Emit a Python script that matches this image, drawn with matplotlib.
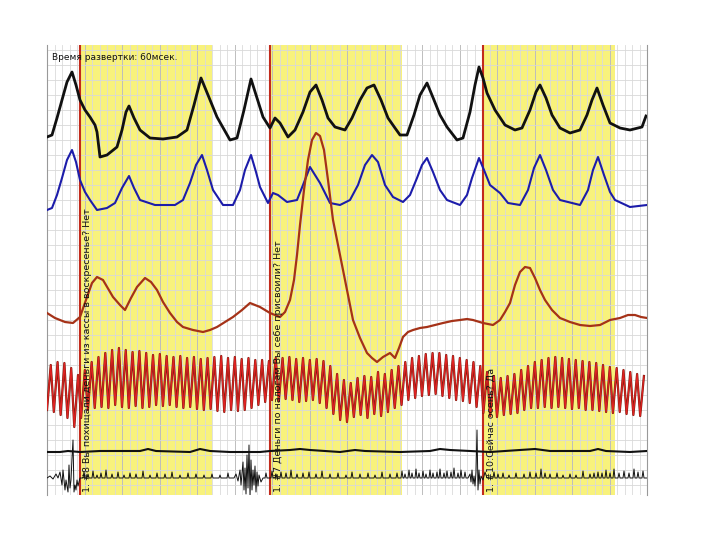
import matplotlib
matplotlib.use('Agg')
import matplotlib.pyplot as plt
import numpy as np

# chart units: x = time column, y = pen position (0 at top)
x_lo, x_hi = 47, 647
y_top, y_bot = 45, 495

question_x = [79.5, 270, 483]
answer_windows = [(80, 212), (270, 402), (483, 615)]
question_labels = ["1. #8 Вы похищали деньги из кассы в воскресенье? Нет",
                   "1. #7 Деньги по налогам Вы себе присвоили? Нет",
                   "1. #10:Сейчас осень? Да"]
sweep_text = "Время развертки: 60мсек."

# upper pneumogram (black)
black_x = [47, 52, 57, 62, 67, 72, 76, 80, 85, 90, 95, 97, 100, 107, 117, 122, 126, 129, 134, 140,
           150, 163, 177, 187, 194, 201, 208, 217, 230, 237, 244, 251, 257, 263, 270, 275, 280, 288,
           295, 303, 310, 316, 322, 328, 335, 345, 352, 360, 367, 374, 381, 388, 395, 400, 407, 414,
           420, 427, 434, 440, 447, 457, 463, 470, 475, 479, 483, 487, 495, 505, 515, 522, 530, 536,
           540, 546, 552, 560, 570, 580, 587, 592, 597, 603, 610, 620, 630, 642, 646]
black_y = [137, 135, 118, 100, 82, 72, 85, 100, 110, 117, 125, 132, 157, 155, 147, 130, 112, 106, 118, 130,
           138, 139, 137, 130, 105, 78, 95, 117, 140, 138, 110, 79, 98, 117, 128, 118, 123, 137,
           130, 112, 92, 85, 100, 118, 127, 130, 118, 100, 88, 85, 100, 118, 128, 135, 135, 115,
           95, 83, 100, 115, 127, 140, 138, 112, 85, 67, 78, 93, 110, 125, 130, 128, 110, 92,
           85, 98, 115, 128, 133, 130, 115, 100, 88, 105, 123, 128, 130, 127, 116]

# lower pneumogram (blue)
blue_x = [47, 52, 57, 62, 67, 72, 76, 80, 85, 90, 97, 107, 115, 122, 129, 134, 140, 155, 175, 183,
          190, 196, 202, 207, 213, 223, 233, 240, 245, 251, 256, 260, 268, 273, 278, 287, 297, 303,
          310, 315, 320, 330, 340, 350, 358, 365, 372, 378, 385, 393, 403, 410, 417, 422, 427, 433,
          440, 447, 460, 467, 472, 479, 484, 490, 500, 508, 520, 528, 534, 540, 546, 553, 560, 580,
          588, 593, 598, 604, 610, 615, 630, 647]
blue_y = [210, 208, 195, 178, 160, 150, 162, 180, 192, 200, 210, 208, 203, 188, 176, 188, 200, 205, 205, 200,
          183, 165, 155, 170, 190, 205, 205, 190, 170, 155, 172, 187, 203, 193, 195, 202, 200, 185,
          167, 175, 183, 203, 205, 200, 185, 165, 155, 162, 185, 197, 202, 195, 178, 165, 158, 172,
          190, 200, 205, 195, 178, 158, 170, 185, 193, 203, 205, 190, 168, 155, 170, 190, 200, 205,
          190, 170, 157, 175, 192, 200, 207, 205]

# skin response (brown)
gsr_x = [47, 55, 65, 73, 80, 87, 92, 97, 103, 113, 120, 125, 131, 137, 145, 151, 157, 163, 170, 177,
         183, 193, 203, 210, 217, 225, 233, 242, 250, 255, 260, 270, 280, 285, 290, 294, 297, 300,
         304, 308, 312, 316, 320, 324, 328, 333, 338, 343, 348, 353, 360, 367, 372, 377, 383, 390,
         395, 399, 403, 408, 413, 420, 427, 435, 443, 452, 460, 467, 473, 483, 493, 500, 505, 510,
         515, 520, 525, 530, 535, 540, 545, 552, 560, 570, 580, 590, 600, 610, 620, 628, 635, 641, 647]
gsr_y = [313, 318, 322, 323, 317, 297, 283, 277, 280, 297, 305, 310, 298, 287, 278, 282, 290, 302, 313, 322,
         327, 330, 332, 330, 327, 322, 317, 310, 303, 305, 307, 313, 317, 312, 300, 280, 255, 225,
         190, 160, 140, 133, 136, 150, 180, 220, 245, 270, 295, 320, 338, 353, 358, 362, 357, 353,
         358, 348, 337, 332, 330, 328, 327, 325, 323, 321, 320, 319, 320, 323, 325, 320, 312, 303,
         285, 272, 267, 268, 278, 290, 300, 310, 318, 322, 325, 326, 325, 320, 318, 315, 315, 317, 318]

# cardio channel: one peak and one trough per beat
beat_peak = [365, 362, 363, 368, 375, 370, 362, 357, 353, 350, 348, 350, 352, 351, 353, 355, 354, 356,
             357, 356, 358, 357, 359, 358, 357, 356, 358, 357, 359, 358, 360, 360, 361, 358, 358, 357,
             359, 358, 360, 359, 361, 366, 374, 380, 383, 378, 376, 377, 372, 374, 370, 366, 362, 358,
             356, 354, 353, 353, 355, 356, 358, 360, 362, 366, 372, 376, 378, 376, 374, 370, 366, 362,
             360, 358, 357, 358, 359, 360, 361, 362, 363, 365, 367, 368, 370, 372, 374, 376]
beat_trough = [410, 412, 415, 418, 427, 418, 410, 408, 407, 408, 405, 407, 408, 406, 408, 407, 405, 406,
               405, 407, 408, 407, 409, 410, 409, 411, 412, 410, 411, 410, 408, 405, 402, 400, 401, 399,
               400, 402, 401, 400, 403, 408, 414, 420, 422, 417, 415, 418, 414, 416, 412, 408, 405, 400,
               398, 396, 395, 394, 396, 398, 400, 401, 403, 407, 413, 416, 417, 415, 414, 413, 410, 408,
               408, 407, 408, 407, 408, 409, 408, 410, 410, 411, 412, 413, 412, 414, 415, 416]

# tremor channel (flat black)
trem_x = [47, 60, 68, 80, 100, 140, 148, 156, 190, 200, 210, 230, 260, 270, 290, 300, 310, 340, 355,
          365, 400, 430, 440, 450, 470, 490, 520, 535, 550, 590, 598, 606, 630, 647]
trem_y = [452, 452, 451, 452, 451, 451, 449, 451, 452, 449, 451, 452, 452, 451, 450, 449, 450, 452, 450,
          451, 452, 451, 449, 450, 451, 452, 450, 449, 451, 451, 449, 451, 452, 451]

# movement channel: baseline with small blips and three bursts
move_base = 478
blip_x = [84, 88, 93, 97, 101, 106, 112, 118, 124, 130, 136, 143, 150, 157, 165, 172, 180, 188, 196, 204,
          212, 220, 228, 266, 272, 276, 281, 286, 291, 297, 303, 309, 316, 322, 330, 338, 346, 352, 360,
          368, 375, 382, 390, 397, 402, 405, 409, 412, 416, 419, 423, 426, 430, 433, 437, 440, 444, 447,
          451, 454, 458, 461, 465, 494, 498, 503, 509, 516, 524, 530, 536, 541, 545, 550, 557, 563, 570,
          576, 583, 590, 594, 598, 602, 606, 610, 614, 619, 624, 629, 634, 638, 643]
blip_h = [6, 4, 7, 3, 5, 8, 4, 6, 3, 5, 4, 7, 3, 5, 4, 6, 3, 5, 4, 3,
          4, 3, 5, 5, 7, 4, 6, 5, 8, 4, 5, 6, 4, 7, 4, 5, 3, 6, 4,
          5, 3, 6, 4, 5, 7, 4, 8, 5, 9, 5, 7, 4, 8, 5, 6, 9, 5, 7,
          6, 10, 5, 8, 6, 6, 4, 5, 3, 5, 4, 6, 5, 9, 5, 4, 5, 3, 4,
          3, 7, 4, 5, 6, 5, 8, 5, 9, 5, 7, 5, 9, 6, 7]
burst_x = [47, 50, 53, 56, 58, 60, 62, 63, 65, 66, 68, 69, 70, 71, 72, 73, 74, 75, 76, 77, 78, 80,
           234, 236, 238, 240, 241, 243, 244, 245, 246, 247, 248, 249, 250, 251, 252, 253, 254, 255,
           256, 257, 258, 259, 261, 263,
           468, 470, 471, 472, 473, 474, 475, 476, 477, 478, 479, 480, 481, 483, 485, 487]
burst_y = [478, 476, 479, 474, 478, 472, 485, 470, 490, 480, 492, 465, 488, 480, 458, 440, 492, 485, 490, 480, 486, 478,
           478, 474, 481, 470, 485, 462, 490, 468, 494, 455, 488, 445, 495, 460, 490, 470, 485, 466,
           492, 472, 486, 475, 482, 478,
           478, 474, 482, 470, 484, 476, 486, 472, 430, 490, 470, 484, 476, 480, 472, 478]

yellow = '#f8f27c'

fig = plt.figure(figsize=(7.2, 5.4), dpi=100)
ax = fig.add_axes([x_lo / 720, (540 - y_bot) / 540, (x_hi - x_lo) / 720, (y_bot - y_top) / 540])
ax.set_xlim(x_lo, x_hi)
ax.set_ylim(y_bot, y_top)

for a, b in answer_windows:
    ax.axvspan(a, b, color=yellow, lw=0, zorder=0)

# chart paper grid
for k, gx in enumerate(np.arange(x_lo, x_hi + 1, 7.5)):
    if k % 5 == 0:
        ax.axvline(gx, color='#bdbdbd', lw=0.7, zorder=1)
    else:
        ax.axvline(gx, color='#dadada', lw=0.6, zorder=1)
for gy in np.arange(50, y_bot, 15):
    ax.axhline(gy, color='#d8d8d8', lw=0.6, zorder=1)

for qx in question_x:
    ax.axvline(qx, color='#c22a1c', lw=1.5, zorder=2)

ax.plot(black_x, black_y, color='#111111', lw=2.0, zorder=4)
ax.plot(blue_x, blue_y, color='#1c1caa', lw=1.5, zorder=4)
ax.plot(gsr_x, gsr_y, color='#a53218', lw=1.6, zorder=4)

# cardio zigzag
step = (x_hi - x_lo) / len(beat_peak)
cx, cy = [], []
for i, (p, t) in enumerate(zip(beat_peak, beat_trough)):
    x0 = x_lo + i * step
    cx += [x0, x0 + step * 0.55]
    cy += [t, p]
ax.plot(cx, cy, color='#7a1e10', lw=1.6, zorder=4)
ax.plot(cx, cy, color='#e02222', lw=0.9, zorder=5)

ax.plot(trem_x, trem_y, color='#111111', lw=1.5, zorder=4)

# movement trace
pts = list(zip(burst_x, burst_y))
for bx, bh in zip(blip_x, blip_h):
    pts += [(bx - 1, move_base), (bx, move_base - bh), (bx + 1, move_base)]
pts.append((x_hi, move_base))
pts.sort()
ax.plot([p[0] for p in pts], [p[1] for p in pts], color='#111111', lw=0.7, zorder=4)

for qx, lab in zip(question_x, question_labels):
    ax.text(qx + 8.5, y_bot - 3, lab, rotation=90, ha='center', va='bottom',
            fontsize=6.8, color='#111111', zorder=6)

ax.text(52, 58, sweep_text, fontsize=6.5, color='#111111', va='center', ha='left', zorder=6)

ax.set_xticks([])
ax.set_yticks([])
for s in ['top', 'bottom']:
    ax.spines[s].set_visible(False)
for s in ['left', 'right']:
    ax.spines[s].set_color('#999999')
    ax.spines[s].set_linewidth(0.8)

fig.savefig('out.png', dpi=100)
